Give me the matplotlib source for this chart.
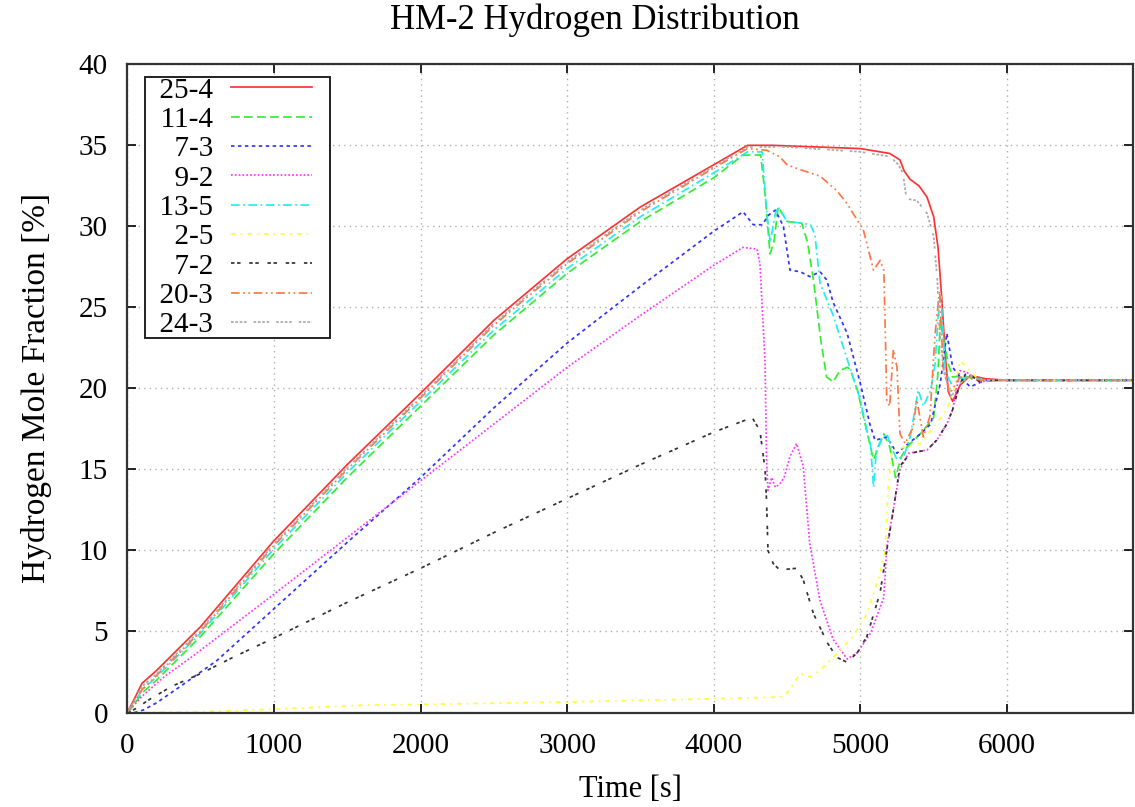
import numpy as np
import matplotlib
matplotlib.use("Agg")
import matplotlib.pyplot as plt
from matplotlib.lines import Line2D
from matplotlib.legend_handler import HandlerLine2D

plt.rcParams['font.family'] = ['Liberation Serif', 'DejaVu Serif']

# sensor data: time [s] / hydrogen mole fraction [%]
t_25_4 = [0, 40, 100, 200, 500, 1000, 1500, 2000, 2500, 3000, 3500, 4000, 4230, 4400, 4700, 5000,
          5200, 5270, 5300, 5340, 5400, 5455, 5500, 5530, 5555, 5580, 5600, 5630, 5680, 5750, 5850, 6000, 6858]
h_25_4 = [0, 0.7, 1.8, 2.6, 5.3, 10.6, 15.3, 19.7, 24.2, 28.0, 31.2, 33.8, 35.0, 35.0, 34.9, 34.8,
          34.5, 34.1, 33.4, 32.9, 32.5, 31.8, 30.6, 28.7, 25.6, 22.0, 19.8, 19.2, 20.2, 20.8, 20.6, 20.5, 20.5]

t_11_4 = [0, 40, 100, 200, 500, 1000, 1500, 2000, 2500, 3000, 3500, 4000, 4200, 4320, 4350, 4384, 4410,
          4440, 4500, 4600, 4640, 4680, 4730, 4770, 4815, 4860, 4910, 4930, 4980, 5040, 5090, 5160, 5200,
          5240, 5280, 5320, 5410, 5500, 5530, 5545, 5560, 5600, 5630, 5700, 5800, 6858]
h_11_4 = [0, 0.4, 1.2, 2.0, 4.7, 9.8, 14.5, 18.9, 23.3, 27.1, 30.3, 33.0, 34.4, 34.4, 32.0, 28.3, 29.0,
          31.2, 30.3, 30.2, 29.0, 26.7, 23.0, 20.7, 20.4, 21.1, 21.3, 21.2, 19.9, 17.5, 15.6, 17.2, 16.4,
          14.5, 15.8, 16.4, 17.2, 18.2, 21.0, 24.2, 23.4, 21.5, 20.7, 20.8, 20.5, 20.5]

t_7_3 = [0, 50, 108, 200, 360, 610, 1000, 1500, 2000, 2500, 3000, 3500, 4000, 4200, 4270, 4330, 4375,
         4420, 4475, 4520, 4590, 4655, 4725, 4770, 4815, 4910, 5000, 5065, 5100, 5180, 5250, 5300, 5410,
         5480, 5545, 5590, 5630, 5680, 5750, 5850, 6858]
h_7_3 = [0, 0, 0.15, 0.6, 1.6, 3.2, 6.4, 10.5, 14.5, 18.8, 22.8, 26.3, 29.7, 30.9, 30.1, 30.1, 30.7,
         31.0, 30.0, 27.3, 27.2, 26.9, 27.2, 26.7, 25.3, 23.4, 20.3, 17.8, 16.8, 17.0, 16.0, 16.4, 17.2,
         17.8, 20.3, 23.4, 21.3, 20.7, 20.1, 20.5, 20.5]

t_9_2 = [0, 50, 100, 250, 450, 1000, 1500, 2000, 2500, 3000, 3500, 4000, 4200, 4295, 4315, 4350, 4360,
         4370, 4395, 4420, 4450, 4480, 4520, 4565, 4610, 4655, 4725, 4815, 4910, 4980, 5070, 5160, 5180,
         5225, 5270, 5330, 5455, 5520, 5590, 5630, 5680, 5725, 5815, 5900, 6858]
h_9_2 = [0, 0.5, 1.0, 2.2, 3.5, 7.3, 10.8, 14.3, 17.8, 21.3, 24.5, 27.6, 28.7, 28.6, 27.7, 21.6, 15.6,
         13.7, 14.5, 13.9, 14.1, 14.5, 15.8, 16.6, 15.2, 10.4, 6.9, 4.5, 3.3, 3.7, 4.9, 7.1, 10.2,
         12.5, 15.0, 16.0, 16.2, 16.8, 17.8, 18.7, 21.1, 21.0, 20.4, 20.5, 20.5]

t_13_5 = [0, 40, 100, 200, 500, 1000, 1500, 2000, 2500, 3000, 3500, 4000, 4230, 4330, 4360, 4385, 4420,
          4440, 4500, 4600, 4660, 4690, 4725, 4815, 4910, 5000, 5045, 5070, 5090, 5110, 5140, 5180, 5220,
          5250, 5300, 5340, 5395, 5430, 5480, 5510, 5530, 5550, 5580, 5620, 5680, 5750, 5850, 6858]
h_13_5 = [0, 0.5, 1.4, 2.2, 4.9, 10.1, 14.8, 19.2, 23.6, 27.4, 30.6, 33.3, 34.6, 34.6, 31.0, 29.0, 30.8,
          31.2, 30.3, 30.2, 30.1, 29.5, 26.5, 24.5, 21.8, 19.3, 17.4, 16.5, 13.9, 16.2, 16.8, 17.2, 16.2,
          15.6, 15.9, 17.0, 19.9, 18.9, 19.9, 21.5, 24.4, 25.7, 21.0, 20.3, 20.6, 20.7, 20.5, 20.5]

t_2_5 = [0, 500, 1000, 1600, 2000, 3000, 4000, 4450, 4500, 4590, 4655, 4725, 4815, 4950, 5045, 5135,
         5170, 5190, 5215, 5320, 5410, 5500, 5590, 5640, 5680, 5725, 5800, 5900, 6858]
h_2_5 = [0, 0.05, 0.2, 0.45, 0.5, 0.65, 0.85, 0.95, 1.2, 2.4, 2.2, 2.6, 3.4, 4.7, 6.1, 8.6,
         10.0, 14.1, 16.2, 16.4, 16.6, 17.6, 18.7, 20.0, 21.7, 21.3, 20.6, 20.5, 20.5]

t_7_2 = [0, 50, 150, 300, 500, 720, 1000, 1500, 2000, 2500, 3000, 3500, 4000, 4262, 4315, 4350, 4360,
         4370, 4405, 4450, 4565, 4610, 4680, 4775, 4840, 4910, 4980, 5045, 5135, 5180, 5225, 5270, 5340,
         5455, 5520, 5590, 5630, 5680, 5725, 5815, 5900, 6858]
h_7_2 = [0, 0.2, 0.8, 1.6, 2.4, 3.4, 4.6, 6.8, 8.9, 11.1, 13.2, 15.3, 17.3, 18.2, 17.4, 15.0, 13.1,
         10.0, 9.2, 8.8, 8.9, 8.2, 6.1, 4.3, 3.4, 3.1, 3.7, 4.7, 7.4, 10.0, 12.5, 15.2, 16.0,
         16.2, 16.8, 17.8, 18.7, 20.3, 21.0, 20.4, 20.5, 20.5]

t_20_3 = [0, 40, 100, 200, 500, 1000, 1500, 2000, 2500, 3000, 3500, 4000, 4230, 4360, 4450, 4500, 4590,
          4725, 4840, 4910, 4950, 5020, 5090, 5135, 5160, 5170, 5180, 5200, 5225, 5250, 5270, 5305, 5360,
          5385, 5430, 5475, 5510, 5540, 5565, 5610, 5680, 5750, 5850, 6858]
h_20_3 = [0, 0.5, 1.4, 2.3, 5.0, 10.3, 15.0, 19.4, 23.9, 27.7, 30.9, 33.6, 34.8, 34.7, 34.3, 33.8, 33.5,
          33.1, 32.2, 31.4, 30.8, 29.8, 27.3, 27.9, 27.3, 23.6, 19.3, 18.9, 22.4, 21.3, 17.2, 16.6, 17.6,
          19.3, 17.0, 18.3, 23.4, 26.0, 21.3, 19.7, 20.7, 20.6, 20.5, 20.5]

t_24_3 = [0, 40, 100, 200, 500, 1000, 1500, 2000, 2500, 3000, 3500, 4000, 4230, 4500, 5000, 5205, 5260,
          5290, 5315, 5385, 5455, 5500, 5525, 5540, 5570, 5620, 5680, 5750, 5850, 6858]
h_24_3 = [0, 0.6, 1.6, 2.4, 5.1, 10.4, 15.1, 19.5, 24.0, 27.8, 31.0, 33.7, 34.9, 34.9, 34.6, 34.3, 33.8,
          33.3, 31.7, 31.6, 30.8, 29.4, 26.7, 23.6, 21.0, 19.5, 20.3, 20.8, 20.5, 20.5]

series = [
    ("25-4", t_25_4, h_25_4, "#ff3333", "-"),
    ("11-4", t_11_4, h_11_4, "#33ee33", (0, (5, 2.5))),
    ("7-3", t_7_3, h_7_3, "#3333ff", (0, (2, 2))),
    ("9-2", t_9_2, h_9_2, "#ff33ff", (0, (1, 1.2))),
    ("13-5", t_13_5, h_13_5, "#22eeee", (0, (5, 2, 1, 2))),
    ("2-5", t_2_5, h_2_5, "#ffff33", (0, (2.5, 3, 1, 3))),
    ("7-2", t_7_2, h_7_2, "#333333", (0, (2, 1.5, 2, 5))),
    ("20-3", t_20_3, h_20_3, "#ff7744", (0, (5, 2, 1, 2, 1, 2))),
    ("24-3", t_24_3, h_24_3, "#aaaaaa", (0, (1.5, 1, 1.5, 1, 1.5, 1, 1.5, 4))),
]

fig = plt.figure(figsize=(11.35, 8.07), dpi=100)
ax = fig.add_axes([0.1122, 0.1171, 0.8858, 0.8032])

for name, t, h, c, ls in series:
    ax.plot(t, h, color=c, linestyle=ls, linewidth=1.25, label="  " + name)

ax.set_xlim(0, 6858)
ax.set_ylim(0, 40)
ax.set_xticks(np.arange(0, 7000, 1000))
ax.set_yticks(np.arange(0, 41, 5))
ax.grid(True, color="#b0b0b0", linestyle=(0, (1, 3)), linewidth=1)
ax.tick_params(direction="in", length=6.5, width=1.2, top=True, right=True, labelsize=21)
ax.tick_params(axis="x", pad=15)
ax.tick_params(axis="y", pad=14)
for s in ax.spines.values():
    s.set_linewidth(1.6)
    s.set_color("#333333")

ax.set_xlabel("Time [s]", fontsize=22, labelpad=11)
ax.set_ylabel("Hydrogen Mole Fraction [%]", fontsize=24, labelpad=19)
fig.text(0.524, 1 - 20 / 807, "HM-2 Hydrogen Distribution", fontsize=25,
         ha="center", va="center")

leg = ax.legend(loc="upper left", bbox_to_anchor=(0.0176, 0.980), borderaxespad=0,
                markerfirst=False, fontsize=21, handlelength=4.0, handletextpad=0,
                labelspacing=0.1, borderpad=0, fancybox=False, framealpha=1,
                edgecolor="#222222",
                handler_map={Line2D: HandlerLine2D(marker_pad=0.6, numpoints=2)})
leg.get_frame().set_linewidth(1.4)

fig.savefig("out.png", dpi=100)
